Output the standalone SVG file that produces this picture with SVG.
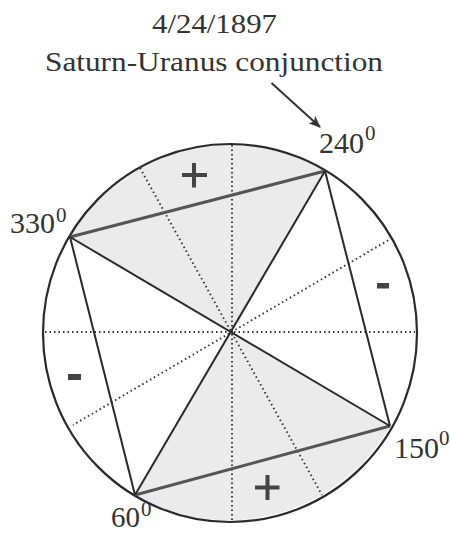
<svg xmlns="http://www.w3.org/2000/svg" width="450" height="533" viewBox="0 0 450 533">
<defs>
<marker id="ah" markerWidth="12" markerHeight="10" refX="11" refY="5" orient="auto" markerUnits="userSpaceOnUse">
<path d="M0,0 L12,5 L0,10 L3,5 Z" fill="#333"/>
</marker>
</defs>
<style>
.lbl{font-family:"Liberation Serif","Times New Roman",serif;fill:#333}
.num{font-size:30px}
.sup{font-size:21px}
.shade{fill:#ebebeb;stroke:none}
.dot{stroke:#333;stroke-width:1.9;stroke-dasharray:1.5 3;fill:none;stroke-linecap:butt}
.solid{stroke:#2a2a2a;stroke-width:2;fill:none}
.chord{stroke:#555;stroke-width:3;fill:none}
.sign{fill:#444}
</style>
<rect width="450" height="533" fill="#fff"/>
<g id="shading">
<path class="shade" d="M232,332 L70,237 A187,189 0 0 1 325,171 Z"/>
<path class="shade" d="M232,332 L390,426 A187,189 0 0 1 135,495 Z"/>
</g>
<g id="circle">
<ellipse cx="230" cy="333" rx="187" ry="189" fill="none" stroke="#2a2a2a" stroke-width="2.2"/>
</g>
<g id="connectors">
<line class="dot" x1="45" y1="332" x2="415" y2="332"/>
<line class="dot" x1="232" y1="145" x2="232" y2="521"/>
<line class="dot" x1="140" y1="168" x2="322" y2="495"/>
<line class="dot" x1="392" y1="238" x2="73" y2="425"/>
<line class="chord" x1="70" y1="237" x2="325" y2="171"/>
<line class="chord" x1="135" y1="495" x2="390" y2="426"/>
<line class="solid" x1="70" y1="237" x2="135" y2="495"/>
<line class="solid" x1="325" y1="171" x2="390" y2="426"/>
<line class="solid" x1="70" y1="237" x2="390" y2="426"/>
<line class="solid" x1="325" y1="171" x2="135" y2="495"/>
<line x1="271.5" y1="83" x2="320" y2="127" stroke="#333" stroke-width="2" marker-end="url(#ah)"/>
</g>
<g id="title">
<text class="lbl" x="152" y="33" font-size="28" textLength="125" lengthAdjust="spacingAndGlyphs">4/24/1897</text>
<text class="lbl" x="45" y="71" font-size="28" textLength="338" lengthAdjust="spacingAndGlyphs">Saturn-Uranus conjunction</text>
</g>
<g id="n240">
<text class="lbl num" x="319" y="153">240<tspan class="sup" dx="1" dy="-13">0</tspan></text>
</g>
<g id="n330">
<text class="lbl num" x="10" y="232.5">330<tspan class="sup" dx="1" dy="-10.5">0</tspan></text>
</g>
<g id="n150">
<text class="lbl num" x="394" y="458">150<tspan class="sup" dx="0" dy="-13">0</tspan></text>
</g>
<g id="n60">
<text class="lbl" x="111" y="526.5" font-size="29">60<tspan class="sup" dx="1" dy="-11">0</tspan></text>
</g>
<g id="signs">
<rect class="sign" x="192" y="163" width="4" height="24.5"/>
<rect class="sign" x="182" y="173" width="25" height="4"/>
<rect class="sign" x="265.5" y="475" width="4" height="25"/>
<rect class="sign" x="255" y="485.5" width="24.5" height="4"/>
<rect class="sign" x="377" y="283" width="12" height="5.5"/>
<rect class="sign" x="68" y="374" width="13" height="6"/>
</g>
</svg>
